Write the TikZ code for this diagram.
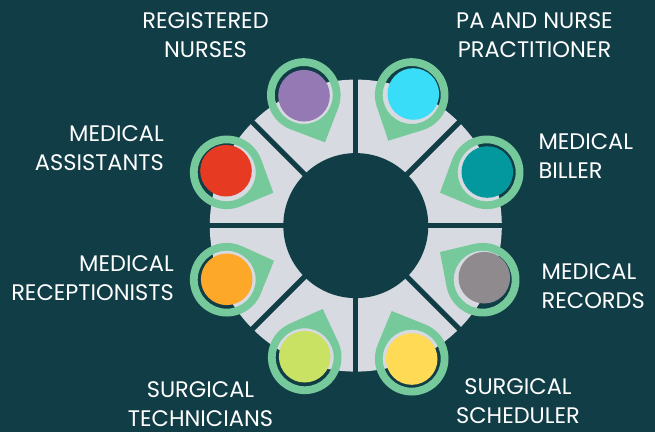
\documentclass[tikz,border=0pt]{standalone}
\usepackage{fontspec}
\setmainfont{Poppins}
\definecolor{bgc}{HTML}{113D46}
\definecolor{ringc}{HTML}{D7DAE0}
\definecolor{pinc}{HTML}{75C99B}
\definecolor{cpurple}{HTML}{9479B5}
\definecolor{cred}{HTML}{E63A22}
\definecolor{ccyan}{HTML}{39DDF8}
\definecolor{cteal}{HTML}{03989E}
\definecolor{corange}{HTML}{FDA829}
\definecolor{clime}{HTML}{C9E264}
\definecolor{cyellow}{HTML}{FFDB55}
\definecolor{cgrey}{HTML}{8E8A8E}
\tikzset{
  lbl/.style={text=white,font=\fontsize{22.5}{29}\selectfont,inner sep=0pt},
  gapline/.style={draw=bgc,line width=5.2pt}
}
% #1 #2 pin centre, #3 #4 tip, #5 colour, #6 #7 disc centre
\newcommand{\mypin}[7]{%
  \pgfmathsetmacro{\aa}{atan2(#4-(#2),#3-(#1))}%
  \pgfmathsetmacro{\dd}{veclen(#3-(#1),#4-(#2))}%
  \pgfmathsetmacro{\bb}{acos(36.8/\dd)}%
  \pgfmathsetmacro{\st}{\aa+\bb}%
  \pgfmathsetmacro{\dl}{360-2*\bb}%
  \fill[pinc,even odd rule] (#3,#4) -- ($(#1,#2)+(\st:36.8)$) arc[start angle=\st,delta angle=\dl,radius=36.8] -- cycle
     (#1,#2) circle[radius=29];
  \fill[#5] (#6,#7) circle[radius=25.8];
}
\usetikzlibrary{calc}
\begin{document}
\begin{tikzpicture}[x=1pt,y=-1pt]
\useasboundingbox (0,0) rectangle (655,432);
\fill[bgc] (0,0) rectangle (655,432);
\coordinate (c) at (355.8,225.6);
\fill[ringc] (c) circle[radius=146];
\foreach \a in {0,45,90,135}{
  \draw[gapline] ($(c)+(\a:150)$) -- ($(c)+(\a+180:150)$);
}
\fill[bgc] (c) circle[radius=72.5];
\mypin{303.8}{95}{325}{142.3}{cpurple}{304}{95.7}
\mypin{226.7}{172.3}{273.3}{192.7}{cred}{226}{170.7}
\mypin{411.7}{95}{388.3}{140.7}{ccyan}{413.3}{94}
\mypin{486.7}{172.3}{440}{192.7}{cteal}{487.3}{172}
\mypin{226.7}{279.7}{274}{260.7}{corange}{226.7}{279.3}
\mypin{304.7}{357.3}{322.7}{309}{clime}{304.7}{356.7}
\mypin{482.7}{279.7}{440}{252}{cgrey}{484.3}{277.7}
\mypin{411.7}{358.7}{391.7}{311}{cyellow}{411.7}{359}
\node[lbl,align=center] (t1) at (205.5,35.5) {REGISTERED\\NURSES};
\node[lbl,align=center] (t2) at (534.5,35.5) {PA AND NURSE\\PRACTITIONER};
\node[lbl,align=right,anchor=east] (t3) at (164,148.3) {MEDICAL\\ASSISTANTS};
\node[lbl,align=left,anchor=west] (t4) at (538.3,156) {MEDICAL\\BILLER};
\node[lbl,align=right,anchor=east] (t5) at (174,278.3) {MEDICAL\\RECEPTIONISTS};
\node[lbl,align=left,anchor=west] (t6) at (541.5,286) {MEDICAL\\RECORDS};
\node[lbl,align=center] (t7) at (200.5,404.5) {SURGICAL\\TECHNICIANS};
\node[lbl,align=center] (t8) at (518,401.3) {SURGICAL\\SCHEDULER};
\end{tikzpicture}
\end{document}
